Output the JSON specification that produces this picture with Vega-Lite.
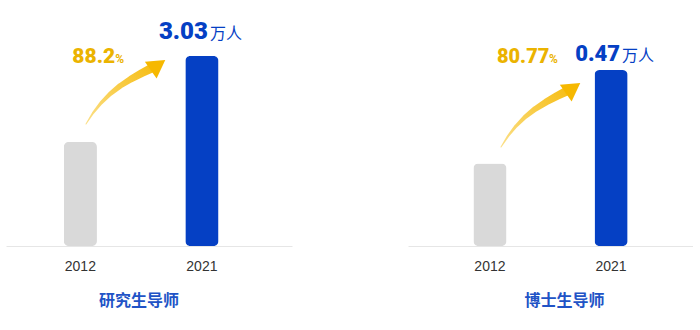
{
  "$schema": "https://vega.github.io/schema/vega-lite/v6.json",
  "padding": {"left": 6, "top": 10, "right": 0, "bottom": 5},
  "background": "white",
  "spacing": 116,
  "config": {"view": {"stroke": null}, "font": "Liberation Sans"},
  "datasets": {
    "bars": [
      {"panel": "研究生导师", "year": "2012", "value": 1.66, "growth": "88.2"},
      {"panel": "研究生导师", "year": "2021", "value": 3.03, "growth": "88.2"},
      {"panel": "博士生导师", "year": "2012", "value": 0.22, "growth": "80.77"},
      {"panel": "博士生导师", "year": "2021", "value": 0.47, "growth": "80.77"}
    ],
    "arrow": [
      {"panel": "研究生导师", "part": "shaft", "t": 0, "ax": 0.2797, "ay": 1.946},
      {"panel": "研究生导师", "part": "shaft", "t": 1, "ax": 0.3042, "ay": 2.121},
      {"panel": "研究生导师", "part": "shaft", "t": 2, "ax": 0.3322, "ay": 2.281},
      {"panel": "研究生导师", "part": "shaft", "t": 3, "ax": 0.3636, "ay": 2.424},
      {"panel": "研究生导师", "part": "shaft", "t": 4, "ax": 0.3986, "ay": 2.552},
      {"panel": "研究生导师", "part": "shaft", "t": 5, "ax": 0.4371, "ay": 2.663},
      {"panel": "研究生导师", "part": "shaft", "t": 6, "ax": 0.4755, "ay": 2.759},
      {"panel": "研究生导师", "part": "shaft", "t": 7, "ax": 0.5105, "ay": 2.839},
      {"panel": "研究生导师", "part": "head", "t": 8, "ax": 0.5315, "ay": 2.887},
      {"panel": "博士生导师", "part": "shaft", "t": 0, "ax": 0.3263, "ay": 0.2643},
      {"panel": "博士生导师", "part": "shaft", "t": 1, "ax": 0.3509, "ay": 0.2936},
      {"panel": "博士生导师", "part": "shaft", "t": 2, "ax": 0.3789, "ay": 0.3203},
      {"panel": "博士生导师", "part": "shaft", "t": 3, "ax": 0.4105, "ay": 0.3444},
      {"panel": "博士生导师", "part": "shaft", "t": 4, "ax": 0.4456, "ay": 0.3657},
      {"panel": "博士生导师", "part": "shaft", "t": 5, "ax": 0.4842, "ay": 0.3844},
      {"panel": "博士生导师", "part": "shaft", "t": 6, "ax": 0.5228, "ay": 0.4004},
      {"panel": "博士生导师", "part": "shaft", "t": 7, "ax": 0.5579, "ay": 0.4138},
      {"panel": "博士生导师", "part": "head", "t": 8, "ax": 0.5789, "ay": 0.4218}
    ]
  },
  "hconcat": [
    {
      "width": 286,
      "height": 236,
      "title": {"text": "研究生导师", "orient": "bottom", "anchor": "middle", "dx": -10, "offset": 20, "fontSize": 16, "fontWeight": "bold", "color": "#2153C6", "font": "Noto Sans CJK SC"},
      "layer": [
        {
          "data": {"name": "bars"},
          "transform": [{"filter": "datum.panel === '研究生导师'"}],
          "encoding": {
            "x": {"field": "year", "type": "nominal", "scale": {"paddingInner": 0.727, "paddingOuter": 0.54, "align": 0.44},
              "axis": {"title": null, "labelAngle": 0, "ticks": false, "domainColor": "#e6e6e6", "domainWidth": 1, "labelFontSize": 14, "labelColor": "#333333", "labelPadding": 13, "labelFont": "Liberation Sans"}},
            "y": {"field": "value", "type": "quantitative", "scale": {"domain": [0, 3.764], "nice": false}, "axis": null}
          },
          "layer": [
            {"mark": {"type": "bar", "cornerRadius": 5}, "encoding": {"color": {"field": "year", "type": "nominal", "scale": {"domain": ["2012", "2021"], "range": ["#D9D9D9", "#0540C4"]}, "legend": null}}},
            {"transform": [{"filter": "datum.year === '2021'"}], "mark": {"type": "text", "align": "right", "baseline": "alphabetic", "dx": 6, "dy": -17, "font": "Roboto", "fontWeight": 900, "fontSize": 24, "color": "#0540C4"}, "encoding": {"text": {"field": "value", "type": "quantitative", "format": ".2f"}}},
            {"transform": [{"filter": "datum.year === '2021'"}], "mark": {"type": "text", "align": "left", "baseline": "alphabetic", "dx": 8, "dy": -17, "font": "Noto Sans CJK SC", "fontSize": 16, "color": "#0540C4"}, "encoding": {"text": {"value": "万人"}}},
            {"transform": [{"filter": "datum.year === '2021'"}], "mark": {"type": "text", "align": "left", "baseline": "alphabetic", "dx": -8, "dy": 7, "font": "Roboto", "fontWeight": 900, "fontSize": 21, "color": "#EBB300"}, "encoding": {"x": {"datum": "2012", "type": "nominal"}, "text": {"field": "growth", "type": "nominal"}}},
            {"transform": [{"filter": "datum.year === '2021'"}], "mark": {"type": "text", "align": "left", "baseline": "alphabetic", "dx": 35, "dy": 7, "font": "Roboto", "fontWeight": "bold", "fontSize": 12, "color": "#EBB300"}, "encoding": {"x": {"datum": "2012", "type": "nominal"}, "text": {"value": "%"}}}
          ]
        },
        {
          "data": {"name": "arrow"},
          "transform": [{"filter": "datum.panel === '研究生导师' && datum.part === 'shaft'"}],
          "mark": {"type": "trail", "color": {"gradient": "linear", "x1": 0, "y1": 1, "x2": 1, "y2": 0, "stops": [{"offset": 0, "color": "#FBE08A"}, {"offset": 1, "color": "#F6BC10"}]}},
          "encoding": {
            "x": {"field": "ax", "type": "quantitative", "scale": {"domain": [0, 1], "nice": false, "zero": false}, "axis": null},
            "y": {"field": "ay", "type": "quantitative", "scale": {"domain": [0, 3.764], "nice": false}, "axis": null},
            "order": {"field": "t"},
            "size": {"field": "t", "type": "quantitative", "scale": {"domain": [0, 7], "range": [1, 9]}, "legend": null}
          }
        },
        {
          "data": {"name": "arrow"},
          "transform": [{"filter": "datum.panel === '研究生导师' && datum.part === 'head'"}],
          "mark": {"type": "point", "shape": "triangle-right", "filled": true, "size": 420, "angle": 325, "color": "#F6B800", "opacity": 1},
          "encoding": {
            "x": {"field": "ax", "type": "quantitative", "scale": {"domain": [0, 1], "nice": false, "zero": false}, "axis": null},
            "y": {"field": "ay", "type": "quantitative", "scale": {"domain": [0, 3.764], "nice": false}, "axis": null}
          }
        }
      ],
      "resolve": {"scale": {"x": "independent", "size": "independent"}}
    },
    {
      "width": 285,
      "height": 236,
      "title": {"text": "博士生导师", "orient": "bottom", "anchor": "middle", "dx": 14, "offset": 20, "fontSize": 16, "fontWeight": "bold", "color": "#2153C6", "font": "Noto Sans CJK SC"},
      "layer": [
        {
          "data": {"name": "bars"},
          "transform": [{"filter": "datum.panel === '博士生导师'"}],
          "encoding": {
            "x": {"field": "year", "type": "nominal", "scale": {"paddingInner": 0.727, "paddingOuter": 0.54, "align": 0.5},
              "axis": {"title": null, "labelAngle": 0, "ticks": false, "domainColor": "#e6e6e6", "domainWidth": 1, "labelFontSize": 14, "labelColor": "#333333", "labelPadding": 13, "labelFont": "Liberation Sans"}},
            "y": {"field": "value", "type": "quantitative", "scale": {"domain": [0, 0.6302], "nice": false}, "axis": null}
          },
          "layer": [
            {"mark": {"type": "bar", "cornerRadius": 5}, "encoding": {"color": {"field": "year", "type": "nominal", "scale": {"domain": ["2012", "2021"], "range": ["#D9D9D9", "#0540C4"]}, "legend": null}}},
            {"transform": [{"filter": "datum.year === '2021'"}], "mark": {"type": "text", "align": "right", "baseline": "alphabetic", "dx": 9, "dy": -9, "font": "Roboto", "fontWeight": 900, "fontSize": 22, "color": "#0540C4"}, "encoding": {"text": {"field": "value", "type": "quantitative", "format": ".2f"}}},
            {"transform": [{"filter": "datum.year === '2021'"}], "mark": {"type": "text", "align": "left", "baseline": "alphabetic", "dx": 11, "dy": -9, "font": "Noto Sans CJK SC", "fontSize": 16, "color": "#0540C4"}, "encoding": {"text": {"value": "万人"}}},
            {"transform": [{"filter": "datum.year === '2021'"}], "mark": {"type": "text", "align": "left", "baseline": "alphabetic", "dx": 7, "dy": -7, "font": "Roboto", "fontWeight": 900, "fontSize": 20, "color": "#EBB300"}, "encoding": {"x": {"datum": "2012", "type": "nominal"}, "text": {"field": "growth", "type": "nominal"}}},
            {"transform": [{"filter": "datum.year === '2021'"}], "mark": {"type": "text", "align": "left", "baseline": "alphabetic", "dx": 59, "dy": -7, "font": "Roboto", "fontWeight": "bold", "fontSize": 12, "color": "#EBB300"}, "encoding": {"x": {"datum": "2012", "type": "nominal"}, "text": {"value": "%"}}}
          ]
        },
        {
          "data": {"name": "arrow"},
          "transform": [{"filter": "datum.panel === '博士生导师' && datum.part === 'shaft'"}],
          "mark": {"type": "trail", "color": {"gradient": "linear", "x1": 0, "y1": 1, "x2": 1, "y2": 0, "stops": [{"offset": 0, "color": "#FBE08A"}, {"offset": 1, "color": "#F6BC10"}]}},
          "encoding": {
            "x": {"field": "ax", "type": "quantitative", "scale": {"domain": [0, 1], "nice": false, "zero": false}, "axis": null},
            "y": {"field": "ay", "type": "quantitative", "scale": {"domain": [0, 0.6302], "nice": false}, "axis": null},
            "order": {"field": "t"},
            "size": {"field": "t", "type": "quantitative", "scale": {"domain": [0, 7], "range": [1, 9]}, "legend": null}
          }
        },
        {
          "data": {"name": "arrow"},
          "transform": [{"filter": "datum.panel === '博士生导师' && datum.part === 'head'"}],
          "mark": {"type": "point", "shape": "triangle-right", "filled": true, "size": 420, "angle": 325, "color": "#F6B800", "opacity": 1},
          "encoding": {
            "x": {"field": "ax", "type": "quantitative", "scale": {"domain": [0, 1], "nice": false, "zero": false}, "axis": null},
            "y": {"field": "ay", "type": "quantitative", "scale": {"domain": [0, 0.6302], "nice": false}, "axis": null}
          }
        }
      ],
      "resolve": {"scale": {"x": "independent", "size": "independent"}}
    }
  ]
}
